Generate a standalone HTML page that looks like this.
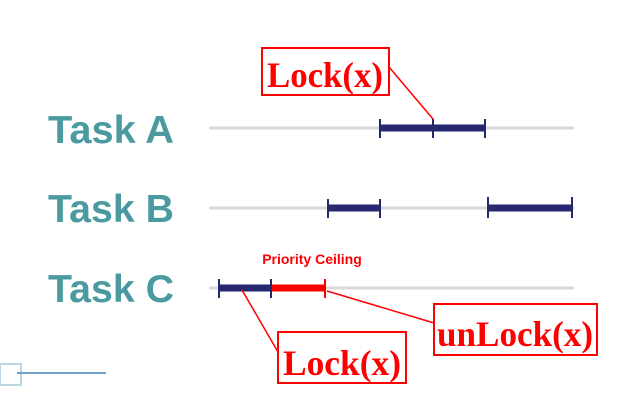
<!DOCTYPE html>
<html><head><meta charset="utf-8"><style>html,body{margin:0;padding:0;background:#fff}</style></head>
<body>
<svg width="639" height="400" xmlns="http://www.w3.org/2000/svg">
<g font-family="Liberation Sans, sans-serif" font-weight="bold" font-size="39" fill="#4a9aa0">
<text x="48" y="143" textLength="126" lengthAdjust="spacingAndGlyphs">Task A</text>
<text x="48" y="222" textLength="126" lengthAdjust="spacingAndGlyphs">Task B</text>
<text x="48" y="302" textLength="126" lengthAdjust="spacingAndGlyphs">Task C</text>
</g>
<g stroke="#d9d9d9" stroke-width="3">
<line x1="209" y1="128" x2="574" y2="128"/>
<line x1="209" y1="208" x2="574" y2="208"/>
<line x1="209" y1="288" x2="574" y2="288"/>
</g>
<g stroke="#25286e">
<line x1="380" y1="128" x2="485" y2="128" stroke-width="7"/>
<line x1="380" y1="119" x2="380" y2="138" stroke-width="2"/>
<line x1="433" y1="119" x2="433" y2="138" stroke-width="2"/>
<line x1="485" y1="119" x2="485" y2="138" stroke-width="2"/>
<line x1="328" y1="208" x2="380" y2="208" stroke-width="7"/>
<line x1="328" y1="199" x2="328" y2="218" stroke-width="2"/>
<line x1="380" y1="199" x2="380" y2="218" stroke-width="2"/>
<line x1="488" y1="208" x2="572" y2="208" stroke-width="7"/>
<line x1="488" y1="197" x2="488" y2="218" stroke-width="2"/>
<line x1="572" y1="197" x2="572" y2="218" stroke-width="2"/>
<line x1="219" y1="288" x2="271" y2="288" stroke-width="7"/>
<line x1="219" y1="279" x2="219" y2="298" stroke-width="2"/>
<line x1="271" y1="279" x2="271" y2="298" stroke-width="2"/>
</g>
<g stroke="#ff0000">
<line x1="272" y1="288" x2="325" y2="288" stroke-width="7"/>
<line x1="325" y1="279" x2="325" y2="298" stroke-width="2"/>
<line x1="389" y1="67" x2="433" y2="119" stroke-width="1.5"/>
<line x1="242" y1="290" x2="278" y2="352" stroke-width="1.5"/>
<line x1="327" y1="291" x2="434" y2="323" stroke-width="1.5"/>
<rect x="262" y="48" width="127" height="47" fill="#fff" stroke-width="2"/>
<rect x="278" y="332" width="128" height="51" fill="#fff" stroke-width="2"/>
<rect x="434" y="304" width="163" height="51" fill="#fff" stroke-width="2"/>
</g>
<g font-family="Liberation Serif, serif" font-weight="bold" fill="#ff0000" font-size="36">
<text x="267" y="87" textLength="116" lengthAdjust="spacingAndGlyphs">Lock(x)</text>
<text x="283" y="375" textLength="118" lengthAdjust="spacingAndGlyphs">Lock(x)</text>
<text x="437" y="346" textLength="156" lengthAdjust="spacingAndGlyphs">unLock(x)</text>
</g>
<text x="312" y="264" text-anchor="middle" font-family="Liberation Sans, sans-serif" font-weight="bold" font-size="14" fill="#ff0000">Priority Ceiling</text>
<rect x="0" y="364" width="21" height="21" fill="none" stroke="#bcd6e4" stroke-width="2"/>
<line x1="17" y1="373" x2="106" y2="373" stroke="#6fa0cc" stroke-width="2"/>
</svg>
</body></html>
